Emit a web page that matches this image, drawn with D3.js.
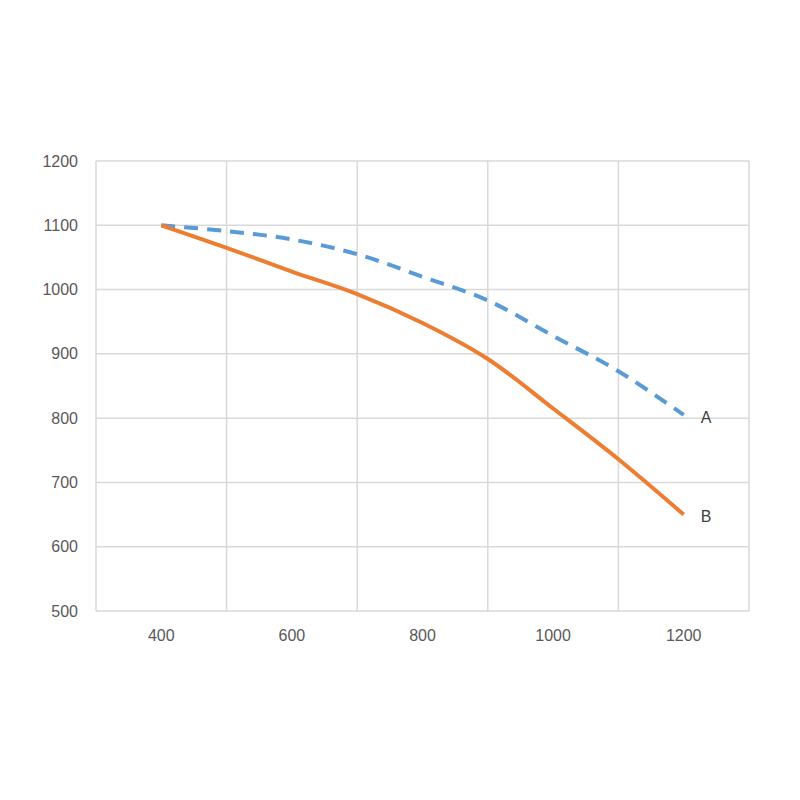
<!DOCTYPE html>
<html><head><meta charset="utf-8">
<script src="https://cdn.jsdelivr.net/npm/d3@7"></script>
<style>body{margin:0;background:#fff}</style>
</head><body>
<script>
// data
const xValues = [400, 500, 600, 700, 800, 900, 1000, 1100, 1200];
const seriesA = [1100, 1091, 1078, 1055, 1020, 983, 928, 873, 805];
const seriesB = [1100, 1065, 1028, 993, 948, 892, 815, 736, 650];
const xTicks = [400, 600, 800, 1000, 1200];
const yTicks = [500, 600, 700, 800, 900, 1000, 1100, 1200];

const svg = d3.select("body").append("svg")
  .attr("width", 800).attr("height", 800);

const x = d3.scaleLinear().domain([300, 1300]).range([96, 749]);
const y = d3.scaleLinear().domain([500, 1200]).range([611, 161]);

// 网格
svg.selectAll(".vg").data(d3.range(300, 1301, 200)).enter().append("line")
  .attr("x1", d => x(d)).attr("x2", d => x(d))
  .attr("y1", y(1200)).attr("y2", y(500))
  .attr("stroke", "#d9d9d9").attr("stroke-width", 1.5);
svg.selectAll(".hg").data(yTicks).enter().append("line")
  .attr("x1", x(300)).attr("x2", x(1300))
  .attr("y1", d => y(d)).attr("y2", d => y(d))
  .attr("stroke", "#d9d9d9").attr("stroke-width", 1.5);

// 刻度标签
svg.selectAll(".xt").data(xTicks).enter().append("text")
  .attr("x", d => x(d)).attr("y", 641)
  .attr("text-anchor", "middle")
  .style("font", "16px 'Liberation Sans', Arial").attr("fill", "#595959")
  .text(d => d);
svg.selectAll(".yt").data(yTicks).enter().append("text")
  .attr("x", 78).attr("y", d => y(d)).attr("dy", "0.35em")
  .attr("text-anchor", "end")
  .style("font", "16px 'Liberation Sans', Arial").attr("fill", "#595959")
  .text(d => d);

const line = d3.line().x((d, i) => x(xValues[i])).y(d => y(d)).curve(d3.curveCatmullRom);

svg.append("path").attr("d", line(seriesA))
  .attr("fill", "none").attr("stroke", "#5b9bd5").attr("stroke-width", 4)
  .attr("stroke-dasharray", "14,9");
svg.append("path").attr("d", line(seriesB))
  .attr("fill", "none").attr("stroke", "#ed7d31").attr("stroke-width", 4);

// 系列标签
svg.append("text").attr("x", x(1200) + 17).attr("y", y(seriesA[8]) + 2).attr("dy", "0.35em")
  .style("font", "16px 'Liberation Sans', Arial").attr("fill", "#404040").text("A");
svg.append("text").attr("x", x(1200) + 17).attr("y", y(seriesB[8]) + 2).attr("dy", "0.35em")
  .style("font", "16px 'Liberation Sans', Arial").attr("fill", "#404040").text("B");
</script>
</body></html>
